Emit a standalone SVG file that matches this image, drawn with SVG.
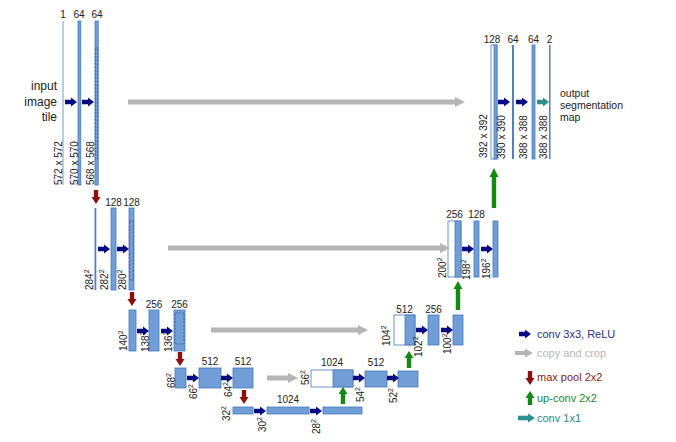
<svg xmlns="http://www.w3.org/2000/svg" width="676" height="442" viewBox="0 0 676 442">
<style>
text{font-family:"Liberation Sans",Arial,sans-serif;fill:#222}
.n{font-size:10px;text-anchor:middle}
.v{font-size:10px}
.t{font-size:12px;text-anchor:end}
.o{font-size:10.5px}
.lg{font-size:11px}
.b{fill:#719ed6;stroke:#4a7bbd;stroke-width:0.8}
.w{fill:#fff;stroke:#4a7bbd;stroke-width:0.8}
.d{fill:none;stroke:#2f5b9a;stroke-width:0.8;stroke-dasharray:2,1.5}
.conv{fill:#0a0a80}
.copy{fill:#b5b5b5}
.pool{fill:#8c1010}
.up{fill:#138a13}
.c11{fill:#2a9090}
</style>
<defs>
<path id="ca" d="M0,-2.2 H6 V-4.5 L12,0 L6,4.5 V2.2 H0 Z"/>
<path id="pa" d="M-2.2,0 V7 H-4.5 L0,14 L4.5,7 H2.2 V0 Z"/>
</defs>

<!-- contracting level 1 -->
<g id="n1a"><rect x="62" y="21" width="2" height="164" fill="#b8cde8"/><text class="n" x="63" y="18">1</text><text class="v" transform="translate(62,185) rotate(-90)">572 x 572</text></g>
<g id="n1b"><rect class="b" x="78" y="21" width="2.8" height="164"/><text class="n" x="79" y="18">64</text><text class="v" transform="translate(77.5,185) rotate(-90)">570 x 570</text></g>
<g id="n1c"><rect class="b" x="95" y="21" width="3.2" height="164"/><rect class="d" x="95.4" y="48" width="2.4" height="111"/><text class="n" x="97" y="18">64</text><text class="v" transform="translate(94,185) rotate(-90)">568 x 568</text></g>
<g id="input"><text class="t" x="57" y="90">input</text><text class="t" x="57" y="105.5">image</text><text class="t" x="57" y="121">tile</text></g>

<!-- level 2 -->
<g id="n2a"><rect x="94.5" y="208" width="1.8" height="82" fill="#4f81c7"/><text class="v" transform="translate(92.5,290) rotate(-90)">284<tspan font-size="7" dy="-4">2</tspan></text></g>
<g id="n2b"><rect class="b" x="111" y="208" width="5" height="82"/><text class="n" x="113.5" y="206">128</text><text class="v" transform="translate(108,290) rotate(-90)">282<tspan font-size="7" dy="-4">2</tspan></text></g>
<g id="n2c"><rect class="b" x="129" y="208" width="5" height="82"/><rect class="d" x="129.6" y="221" width="3.8" height="59"/><text class="n" x="131.5" y="206">128</text><text class="v" transform="translate(126,290) rotate(-90)">280<tspan font-size="7" dy="-4">2</tspan></text></g>

<!-- level 3 -->
<g id="n3a"><rect class="b" x="129" y="310" width="7" height="41"/><text class="v" transform="translate(127,351) rotate(-90)">140<tspan font-size="7" dy="-4">2</tspan></text></g>
<g id="n3b"><rect class="b" x="149" y="310" width="10" height="41"/><text class="n" x="154" y="308">256</text><text class="v" transform="translate(149,352) rotate(-90)">138<tspan font-size="7" dy="-4">2</tspan></text></g>
<g id="n3c"><rect class="b" x="174" y="310" width="11" height="41"/><rect class="d" x="175" y="313" width="9" height="31"/><text class="n" x="179.5" y="308">256</text><text class="v" transform="translate(172,352) rotate(-90)">136<tspan font-size="7" dy="-4">2</tspan></text></g>

<!-- level 4 -->
<g id="n4a"><rect class="b" x="175" y="368" width="11" height="20"/><text class="v" transform="translate(175,388) rotate(-90)">68<tspan font-size="7" dy="-4">2</tspan></text></g>
<g id="n4b"><rect class="b" x="199" y="368" width="22" height="20"/><text class="n" x="210" y="365">512</text><text class="v" transform="translate(197,399) rotate(-90)">66<tspan font-size="7" dy="-4">2</tspan></text></g>
<g id="n4c"><rect class="b" x="233" y="368" width="20" height="20"/><text class="n" x="243" y="365">512</text><text class="v" transform="translate(232,397) rotate(-90)">64<tspan font-size="7" dy="-4">2</tspan></text></g>

<!-- level 5 -->
<g id="n5a"><rect class="b" x="233" y="407" width="20" height="7"/><text class="v" transform="translate(230,421) rotate(-90)">32<tspan font-size="7" dy="-4">2</tspan></text></g>
<g id="n5b"><rect class="b" x="267" y="407" width="42" height="7"/><text class="n" x="288" y="403">1024</text><text class="v" transform="translate(266,432) rotate(-90)">30<tspan font-size="7" dy="-4">2</tspan></text></g>
<g id="n5c"><rect class="b" x="323" y="407" width="39" height="7"/><text class="v" transform="translate(320,434) rotate(-90)">28<tspan font-size="7" dy="-4">2</tspan></text></g>

<!-- expanding level 4 -->
<g id="u4a"><rect class="w" x="311" y="370" width="42" height="17"/><rect class="b" x="333" y="370" width="20" height="17"/><text class="n" x="332" y="366">1024</text><text class="v" transform="translate(309,385) rotate(-90)">56<tspan font-size="7" dy="-4">2</tspan></text></g>
<g id="u4b"><rect class="b" x="365" y="371" width="22" height="16"/><text class="n" x="376" y="366">512</text><text class="v" transform="translate(364,402) rotate(-90)">54<tspan font-size="7" dy="-4">2</tspan></text></g>
<g id="u4c"><rect class="b" x="398" y="371" width="20" height="16"/><text class="v" transform="translate(397,403) rotate(-90)">52<tspan font-size="7" dy="-4">2</tspan></text></g>

<!-- expanding level 3 -->
<g id="u3a"><rect class="w" x="394" y="315" width="21" height="30"/><rect class="b" x="405" y="315" width="10" height="30"/><text class="n" x="404.5" y="313">512</text><text class="v" transform="translate(390,346) rotate(-90)">104<tspan font-size="7" dy="-4">2</tspan></text></g>
<g id="u3b"><rect class="b" x="428" y="315" width="11" height="30"/><text class="n" x="433.5" y="313">256</text><text class="v" transform="translate(422,357) rotate(-90)">102<tspan font-size="7" dy="-4">2</tspan></text></g>
<g id="u3c"><rect class="b" x="453" y="315" width="10" height="30"/><text class="v" transform="translate(451,354) rotate(-90)">100<tspan font-size="7" dy="-4">2</tspan></text></g>

<!-- expanding level 2 -->
<g id="u2a"><rect class="w" x="448" y="221" width="13" height="56"/><rect class="b" x="455" y="221" width="6" height="56"/><text class="n" x="454.5" y="218">256</text><text class="v" transform="translate(446,278) rotate(-90)">200<tspan font-size="7" dy="-4">2</tspan></text></g>
<g id="u2b"><rect class="b" x="474" y="221" width="5" height="56"/><text class="n" x="476.5" y="218">128</text><text class="v" transform="translate(470,280) rotate(-90)">198<tspan font-size="7" dy="-4">2</tspan></text></g>
<g id="u2c"><rect class="b" x="493" y="221" width="5" height="56"/><text class="v" transform="translate(490,279) rotate(-90)">196<tspan font-size="7" dy="-4">2</tspan></text></g>

<!-- expanding level 1 -->
<g id="u1a"><rect class="w" x="491" y="45" width="6" height="114"/><rect class="b" x="494" y="45" width="3" height="114"/><text class="n" x="492" y="43">128</text><text class="v" transform="translate(487,158) rotate(-90)">392 x 392</text></g>
<g id="u1b"><rect x="512" y="45" width="2" height="114" fill="#4f81c7"/><text class="n" x="513" y="43">64</text><text class="v" transform="translate(505,159) rotate(-90)">390 x 390</text></g>
<g id="u1c"><rect class="b" x="532" y="45" width="3" height="114"/><text class="n" x="533.5" y="43">64</text><text class="v" transform="translate(527,159) rotate(-90)">388 x 388</text></g>
<g id="u1d"><rect x="549" y="45" width="1.5" height="114" fill="#4f81c7"/><text class="n" x="549.5" y="43">2</text><text class="v" transform="translate(547,159) rotate(-90)">388 x 388</text></g>
<g id="output"><text class="o" x="560" y="97">output</text><text class="o" x="560" y="109">segmentation</text><text class="o" x="560" y="121">map</text></g>

<!-- connectors -->
<g id="connectors">
<use href="#ca" class="conv" x="65" y="102"/><use href="#ca" class="conv" x="82" y="102"/>
<use href="#ca" class="conv" x="98" y="249"/><use href="#ca" class="conv" x="117" y="249"/>
<use href="#ca" class="conv" x="137" y="331"/><use href="#ca" class="conv" x="161" y="331"/>
<use href="#ca" class="conv" x="187" y="378"/><use href="#ca" class="conv" x="221" y="378"/>
<use href="#ca" class="conv" x="254" y="411"/><use href="#ca" class="conv" x="310" y="411"/>
<use href="#ca" class="conv" x="353" y="378"/><use href="#ca" class="conv" x="387" y="378"/>
<use href="#ca" class="conv" x="416" y="330"/><use href="#ca" class="conv" x="441" y="330"/>
<use href="#ca" class="conv" x="462" y="249"/><use href="#ca" class="conv" x="481" y="249"/>
<use href="#ca" class="conv" x="498" y="102"/><use href="#ca" class="conv" x="516" y="102"/>
<use href="#ca" class="c11" x="537" y="102"/>
<use href="#pa" class="pool" x="96" y="190"/>
<use href="#pa" class="pool" x="132" y="292"/>
<use href="#pa" class="pool" x="180" y="352"/>
<use href="#pa" class="pool" x="244" y="390"/>
<path class="copy" d="M128,99.5 H455 V97 L465,102 L455,107 V104.5 H128 Z"/>
<path class="copy" d="M168,245.5 H440 V243 L450,248 L440,253 V250.5 H168 Z"/>
<path class="copy" d="M211,327.5 H358 V325 L368,330 L358,335 V332.5 H211 Z"/>
<path class="copy" d="M267,375.5 H288 V373 L298,378 L288,383 V380.5 H267 Z"/>
<path class="up" d="M340.8,404 V394 H338.5 L343,387 L347.5,394 H345.2 V404 Z"/>
<path class="up" d="M406.8,368 V358 H404.5 L409,351 L413.5,358 H411.2 V368 Z"/>
<path class="up" d="M455.8,310 V289 H453.5 L458,281 L462.5,289 H460.2 V310 Z"/>
<path class="up" d="M491.8,208 V177 H489.5 L494,168 L498.5,177 H496.2 V208 Z"/>
</g>

<!-- legend -->
<g id="legend">
<use href="#ca" class="conv" x="519" y="334"/>
<text class="lg" x="537" y="338" style="fill:#2e2e8c">conv 3x3, ReLU</text>
<path class="copy" d="M515,351 H525 V348.5 L533,353 L525,357.5 V355 H515 Z"/>
<text class="lg" x="537" y="357" style="fill:#b8b8b8">copy and crop</text>
<use href="#pa" class="pool" x="530" y="371"/>
<text class="lg" x="537" y="381" style="fill:#8c1a1a">max pool 2x2</text>
<path class="up" d="M527.8,405 V398 H525.5 L530,391 L534.5,398 H532.2 V405 Z"/>
<text class="lg" x="537" y="402" style="fill:#1f8a1f">up-conv 2x2</text>
<path class="c11" d="M518,415.8 H528 V413.5 L535,418 L528,422.5 V420.2 H518 Z"/>
<text class="lg" x="537" y="422" style="fill:#2a8a8a">conv 1x1</text>
</g>
</svg>
